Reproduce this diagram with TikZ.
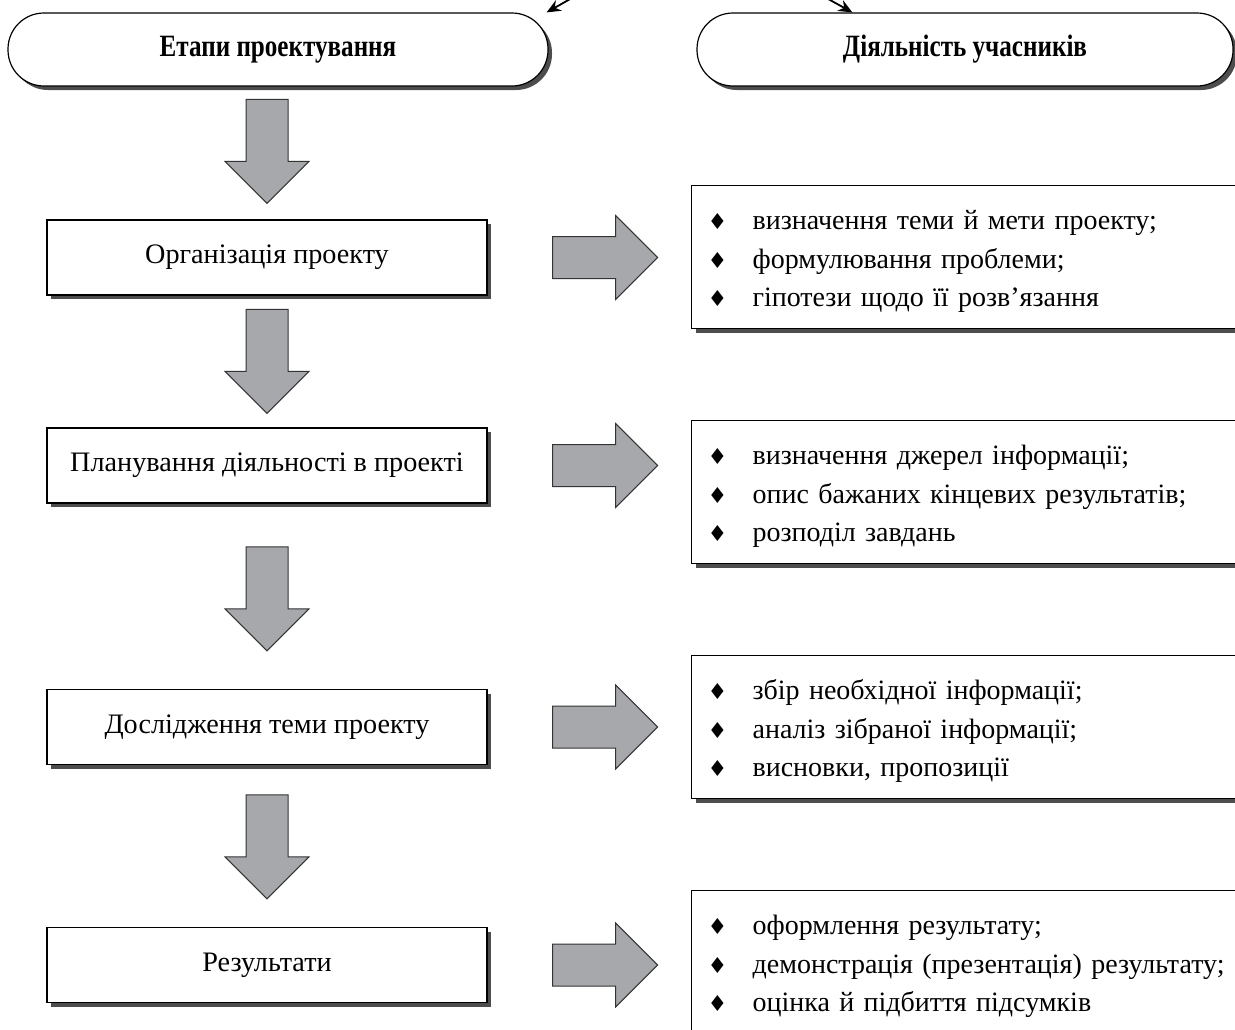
\documentclass[tikz,border=0pt]{standalone}
\usepackage{fontspec}
\setmainfont{Liberation Serif}
\newfontfamily\hdfont[FakeStretch=0.81]{Liberation Serif}
\newfontfamily\bulletfont{DejaVu Sans}
\usetikzlibrary{shadows,calc,arrows.meta}
\definecolor{arrgray}{HTML}{A7A8AB}
\definecolor{shgray}{HTML}{4D4D4D}
\newcommand\itm{\makebox[22.5pt][l]{{\bulletfont\fontsize{11}{11}\selectfont ♦}}}
\newcommand\firststrut{\rule{0pt}{14pt}}
\tikzset{
  shbox/.style={draw=black, line width=0.6pt, fill=white,
    drop shadow={shadow xshift=2pt, shadow yshift=-2pt, fill=shgray, opacity=1}},
  header/.style={shbox, rounded corners=18pt, minimum height=36.5pt, inner sep=0pt,
    font=\hdfont\bfseries\fontsize{15.5}{17}\selectfont},
  stage/.style={shbox, minimum width=220pt, minimum height=37.5pt, inner sep=0pt,
    font=\fontsize{14.1}{17}\selectfont},
  act/.style={shbox, anchor=north west, minimum width=280pt, minimum height=71.5pt,
    text width=264pt, inner xsep=8pt, inner ysep=0pt, align=left,
    font=\fontsize{14}{19.25}\selectfont},
  blockarrow/.style={fill=arrgray, draw=black!80, line width=0.5pt, line join=miter},
  darr/.pic={\path[blockarrow] (-21,0) -- (21,0) -- (21,62) -- (42,62) -- (0,104)
      -- (-42,62) -- (-21,62) -- cycle;},
  rarr/.pic={\path[blockarrow] (0,-21) -- (63,-21) -- (63,-42) -- (105,0) -- (63,42)
      -- (63,21) -- (0,21) -- cycle;},
  toparrow/.style={-{Stealth[length=7pt,width=6pt]}, line width=0.9pt, black}
}
\begin{document}
\begin{tikzpicture}[x=0.5pt,y=-0.5pt]
\useasboundingbox (0,0) rectangle (1235,1029);
\clip (0,0) rectangle (1235,1029);

% headers
\node[header, minimum width=270pt] (h1) at (278,49.5) {Етапи проектування};
\node[header, minimum width=268pt] (h2) at (965,49.5) {Діяльність учасників};

% incoming arrows from above
\coordinate (s1) at (586,-10);
\coordinate (s2) at (812,-10);
\draw[toparrow] (s1) -- ($(h1.north east)+(-2,0)$);
\draw[toparrow] (s2) -- ($(h2.north west)+(156,0)$);

% stages
\node[stage] (l1) at (267,257.5) {Організація проекту};
\node[stage] (l2) at (267,465.5) {Планування діяльності в проекті};
\node[stage] (l3) at (267,727) {Дослідження теми проекту};
\node[stage] (l4) at (267,965) {Результати};

% down arrows
\pic at ($(l1.north)+(0,-120)$) {darr};
\pic at ($(l2.north)+(0,-118)$) {darr};
\pic at ($(l3.north)+(0,-142)$) {darr};
\pic at ($(l4.north)+(0,-132)$) {darr};

% right arrows
\pic at ($(l1.east)+(65,0)$) {rarr};
\pic at ($(l2.east)+(65,0)$) {rarr};
\pic at ($(l3.east)+(65,0)$) {rarr};
\pic at ($(l4.east)+(65,0)$) {rarr};

% activity boxes
\node[act] (r1) at (691,185) {\firststrut\itm визначення теми й мети проекту;\\
  \itm формулювання проблеми;\\
  \itm гіпотези щодо її розв’язання};
\node[act] (r2) at (691,420) {\firststrut\itm визначення джерел інформації;\\
  \itm опис бажаних кінцевих результатів;\\
  \itm розподіл завдань};
\node[act] (r3) at (691,655) {\firststrut\itm збір необхідної інформації;\\
  \itm аналіз зібраної інформації;\\
  \itm висновки, пропозиції};
\node[act] (r4) at (691,890) {\firststrut\itm оформлення результату;\\
  \itm демонстрація (презентація) результату;\\
  \itm оцінка й підбиття підсумків};
\end{tikzpicture}
\end{document}
